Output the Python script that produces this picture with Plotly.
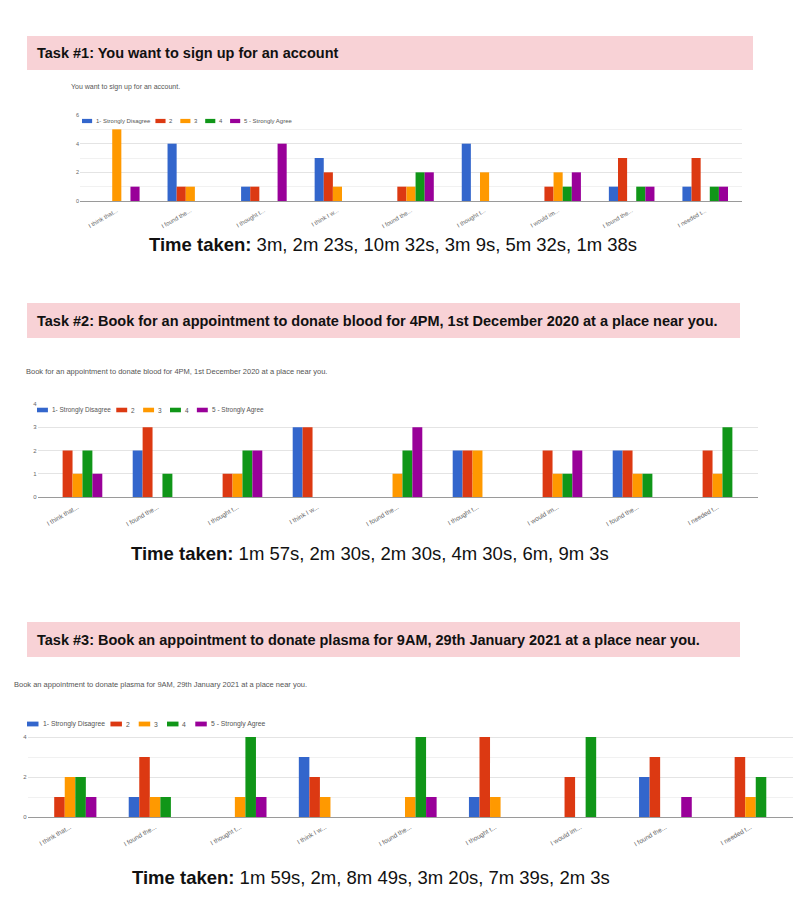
import plotly.graph_objects as go

# ---------------- data ----------------
categories = ["I think that...", "I found the...", "I thought t...", "I think I w...",
              "I found the...", "I thought t...", "I would im...", "I found the...", "I needed t..."]
series_names = ["1- Strongly Disagree", "2", "3", "4", "5 - Strongly Agree"]
series_colors = ["#3366cc", "#dc3912", "#ff9900", "#109618", "#990099"]

task1_s1 = [0, 4, 1, 3, 0, 4, 0, 1, 1]
task1_s2 = [0, 1, 1, 2, 1, 0, 1, 3, 3]
task1_s3 = [5, 1, 0, 1, 1, 2, 2, 0, 0]
task1_s4 = [0, 0, 0, 0, 2, 0, 1, 1, 1]
task1_s5 = [1, 0, 4, 0, 2, 0, 2, 1, 1]

task2_s1 = [0, 2, 0, 3, 0, 2, 0, 2, 0]
task2_s2 = [2, 3, 1, 3, 0, 2, 2, 2, 2]
task2_s3 = [1, 0, 1, 0, 1, 2, 1, 1, 1]
task2_s4 = [2, 1, 2, 0, 2, 0, 1, 1, 3]
task2_s5 = [1, 0, 2, 0, 3, 0, 2, 0, 0]

task3_s1 = [0, 1, 0, 3, 0, 1, 0, 2, 0]
task3_s2 = [1, 3, 0, 2, 0, 4, 2, 3, 3]
task3_s3 = [2, 1, 1, 1, 1, 1, 0, 0, 1]
task3_s4 = [2, 1, 4, 0, 4, 0, 4, 0, 2]
task3_s5 = [1, 0, 1, 0, 1, 0, 0, 1, 0]

headers = ["Task #1: You want to sign up for an account",
           "Task #2: Book for an appointment to donate blood for 4PM, 1st December 2020 at a place near you.",
           "Task #3: Book an appointment to donate plasma for 9AM, 29th January 2021 at a place near you."]
subtitles = ["You want to sign up for an account.",
             "Book for an appointment to donate blood for 4PM, 1st December 2020 at a place near you.",
             "Book an appointment to donate plasma for 9AM, 29th January 2021 at a place near you."]
times = ["3m, 2m 23s, 10m 32s, 3m 9s, 5m 32s, 1m 38s",
         "1m 57s, 2m 30s, 2m 30s, 4m 30s, 6m, 9m 3s",
         "1m 59s, 2m, 8m 49s, 3m 20s, 7m 39s, 2m 3s"]

tasks = [
    [task1_s1, task1_s2, task1_s3, task1_s4, task1_s5],
    [task2_s1, task2_s2, task2_s3, task2_s4, task2_s5],
    [task3_s1, task3_s2, task3_s3, task3_s4, task3_s5],
]

# ---------------- layout helpers ----------------
W, H = 793, 922
FONT = "Liberation Sans, Arial, sans-serif"


def px(x):
    return x / W


def py(y):
    return 1 - y / H


AW = {c: 0.5 for c in "abcdeghknopqsuvxyz"}
AW.update({"i": 0.222, "l": 0.222, "j": 0.222, "t": 0.278, "f": 0.278, "r": 0.333,
           "m": 0.833, "w": 0.722, " ": 0.278, "-": 0.333})
for d in "0123456789":
    AW[d] = 0.556


def text_w(s, size):
    return sum(AW.get(c, 0.667) for c in s) * size


# per chart layout (pixels)
cfg = [
    dict(box=(27, 753, 36, 70), head_y=53, sub=(69, 87, 7), plot_x=(80, 742), plot_y=(201, 115),
         yrange=[0, 6], dtick=2, minor=1, legend=(82, 121, 0.88), time=(393, 245), tick=6),
    dict(box=(27, 740, 303, 338), head_y=321, sub=(24, 372, 7.5), plot_x=(37.5, 757.5), plot_y=(497, 404),
         yrange=[0, 4], dtick=1, minor=None, legend=(37, 410, 0.95), time=(370, 553), tick=6.5),
    dict(box=(27, 740, 622, 657), head_y=640, sub=(12, 684, 7.5), plot_x=(27.5, 793), plot_y=(817, 717),
         yrange=[0, 5], dtick=2, minor=1, legend=(27, 724, 1.0), time=(371, 877), tick=6.5),
]

fig = go.Figure()
shapes, annotations = [], []
layout_axes = {}

for t, (vals_list, c) in enumerate(zip(tasks, cfg)):
    n = t + 1
    xa = "x" if n == 1 else f"x{n}"
    ya = "y" if n == 1 else f"y{n}"
    for name, col, vals in zip(series_names, series_colors, vals_list):
        fig.add_trace(go.Bar(x=list(range(len(categories))), y=vals, name=name,
                             marker=dict(color=col, line=dict(width=0)),
                             xaxis=xa, yaxis=ya, showlegend=False))
    xkey = "xaxis" if n == 1 else f"xaxis{n}"
    ykey = "yaxis" if n == 1 else f"yaxis{n}"
    layout_axes[xkey] = dict(
        domain=[px(c["plot_x"][0]), min(1.0, px(c["plot_x"][1]))], anchor=ya,
        range=[-0.5, len(categories) - 0.5], tickmode="array",
        tickvals=list(range(len(categories))), ticktext=categories,
        tickangle=-30, tickfont=dict(size=c["tick"], color="#666666", family=FONT),
        ticklabelstandoff=3,
        showgrid=False, zeroline=False, showline=True, linecolor="#9a9a9a", linewidth=1,
        ticks="", fixedrange=True)
    yax = dict(
        domain=[py(c["plot_y"][0]), py(c["plot_y"][1])], anchor=xa,
        range=c["yrange"], tick0=0, dtick=c["dtick"],
        tickfont=dict(size=c["tick"] - 0.5, color="#666666", family=FONT),
        showgrid=True, gridcolor="#e4e4e4", gridwidth=1, zeroline=False,
        showline=False, ticks="", fixedrange=True)
    if c["minor"]:
        yax["minor"] = dict(dtick=c["minor"], tick0=0, showgrid=True, gridcolor="#f1f1f1", gridwidth=1)
    layout_axes[ykey] = yax

    # pink header
    x0, x1, y0, y1 = c["box"]
    shapes.append(dict(type="rect", xref="paper", yref="paper", x0=px(x0), x1=px(x1),
                       y0=py(y1), y1=py(y0), fillcolor="#f8d2d6", line=dict(width=0), layer="below"))
    annotations.append(dict(text=f"<b>{headers[t]}</b>", xref="paper", yref="paper",
                            x=px(35), y=py(c["head_y"]), xanchor="left", yanchor="middle",
                            showarrow=False, font=dict(size=14.5, color="#111111", family=FONT)))
    # subtitle
    sx, sy, ss = c["sub"]
    annotations.append(dict(text=subtitles[t], xref="paper", yref="paper", x=px(sx), y=py(sy),
                            xanchor="left", yanchor="middle", showarrow=False,
                            font=dict(size=ss, color="#555555", family=FONT)))
    # legend
    lx, ly, s = c["legend"]
    fsz = 6.8 * s
    for name, col in zip(series_names, series_colors):
        shapes.append(dict(type="rect", xref="paper", yref="paper", x0=px(lx), x1=px(lx + 11.5 * s),
                           y0=py(ly + 2.4 * s), y1=py(ly - 2.4 * s), fillcolor=col, line=dict(width=0)))
        annotations.append(dict(text=name, xref="paper", yref="paper", x=px(lx + 13.5 * s), y=py(ly),
                                xanchor="left", yanchor="middle", showarrow=False,
                                font=dict(size=fsz, color="#555555", family=FONT)))
        lx += 13.5 * s + text_w(name, fsz) + 11 * s
    # time taken
    tx, ty = c["time"]
    annotations.append(dict(text=f"<b>Time taken:</b> {times[t]}", xref="paper", yref="paper",
                            x=px(tx), y=py(ty), xanchor="center", yanchor="middle", showarrow=False,
                            font=dict(size=18.5, color="#111111", family=FONT)))

fig.update_layout(
    width=W, height=H, margin=dict(l=0, r=0, t=0, b=0, pad=0),
    paper_bgcolor="white", plot_bgcolor="white", template="none",
    barmode="group", bargap=0.38, bargroupgap=0,
    font=dict(family=FONT), shapes=shapes, annotations=annotations,
    showlegend=False, **layout_axes)

fig.write_html("out.html", config={"displayModeBar": False},
               post_script="document.body.style.margin='0px';document.body.style.padding='0px';")
